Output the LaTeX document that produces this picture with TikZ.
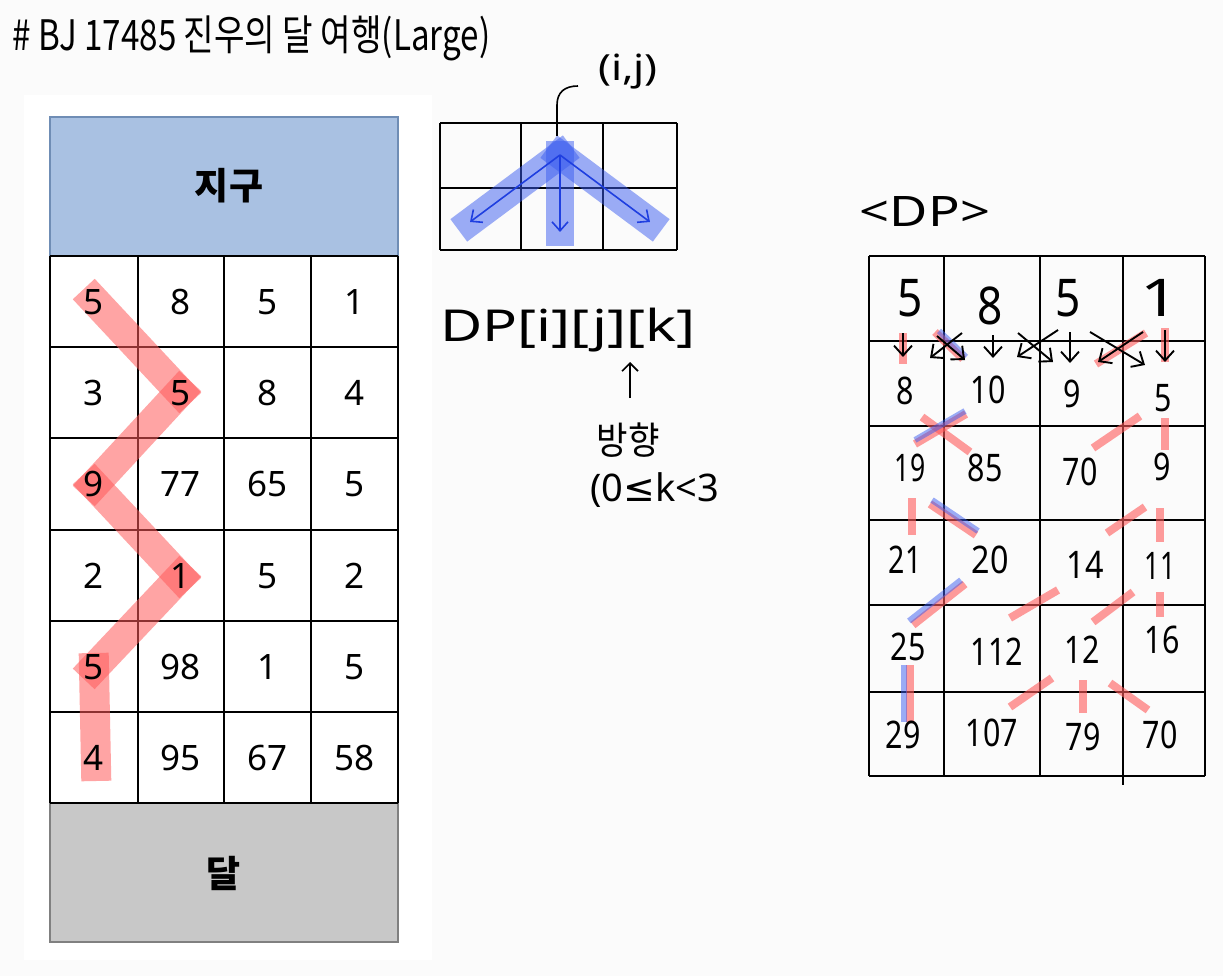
\documentclass[tikz,border=0pt]{standalone}
\usepackage{fontspec}
\setmainfont{Noto Sans}
\newfontfamily\kr{Noto Sans CJK KR}
\newfontfamily\dejavu{DejaVu Sans}
\usetikzlibrary{arrows.meta}
\definecolor{hdrblue}{HTML}{A9C1E2}
\definecolor{hdredge}{HTML}{6F8DB5}
\definecolor{ftrgray}{HTML}{C8C8C8}
\definecolor{hlred}{HTML}{FF5A5A}
\definecolor{hlblue}{HTML}{3A5CF0}
\definecolor{arrblue}{HTML}{1F3FE0}
\definecolor{bgcol}{HTML}{FBFBFB}
\newcommand{\hs}[2]{\scalebox{#1}[1]{#2}}
\tikzset{
  gridline/.style={draw=black, line width=1.3pt},
  tabnum/.style={font=\fontsize{35}{35}\selectfont, inner sep=0pt},
  hand/.style={font=\kr\fontsize{34}{34}\selectfont, inner sep=0pt},
  dpnum/.style={font=\fontsize{38}{38}\selectfont, inner sep=0pt},
  dpbig/.style={font=\fontsize{52}{52}\selectfont, inner sep=0pt},
  redband/.style={draw=hlred, draw opacity=0.55, line width=30pt, line cap=rect, line join=round},
  blueband/.style={draw=hlblue, draw opacity=0.5, line width=28pt, line cap=rect},
  thinblue/.style={draw=arrblue, line width=1.6pt, -{Straight Barb[length=9pt,width=16pt]}},
  thinarrow/.style={draw=black, line width=1.9pt, -{Straight Barb[length=10pt,width=18pt]}},
  dpred/.style={draw=hlred, draw opacity=0.6, line width=8pt},
  dpblue/.style={draw=hlblue, draw opacity=0.5, line width=6pt},
}
\begin{document}
\begin{tikzpicture}[x=1pt,y=-1pt]
\useasboundingbox (0,0) rectangle (1223,976);
\fill[bgcol] (0,0) rectangle (1223,976);
\fill[white] (24,95) rectangle (432,960);

% ---------- title ----------
\node[inner sep=0pt, anchor=west, font=\kr\fontsize{42}{42}\selectfont] (title) at (12,38) {\hs{0.79}{\# BJ 17485 진우의 달 여행(Large)}};

% ---------- left table ----------
\fill[hdrblue] (50,117) rectangle (398,256);
\draw[hdredge, line width=1.2pt] (50,117) rectangle (398,256);
\node[font=\kr\bfseries\fontsize{37}{37}\selectfont] (earth) at (229,186) {지구};
\fill[ftrgray] (50,803) rectangle (398,942);
\draw[gray, line width=1.2pt] (50,803) rectangle (398,942);
\node[font=\kr\bfseries\fontsize{37}{37}\selectfont] (moon) at (224,873) {달};
\foreach \y in {256,347,438,530,621,712,803} \draw[gridline] (50,\y) -- (398,\y);
\foreach \x in {50,138,224,311,398} \draw[gridline] (\x,256) -- (\x,803);

% red path
\draw[redband] (94,300) -- (180,392);
\draw[redband] (180,392) -- (94,485);
\draw[redband] (94,485) -- (180,577);
\draw[redband] (180,577) -- (94,668);
\draw[redband] (94,668) -- (96,766);

\foreach \r/\vals [count=\ri] in {302/{5,8,5,1}, 393/{3,5,8,4}, 484/{9,77,65,5}, 576/{2,1,5,2}, 667/{5,98,1,5}, 758/{4,95,67,58}}{
  \foreach \v [count=\ci] in \vals {
    \pgfmathsetmacro{\cx}{94+(\ci-1)*86.7}
    \node[tabnum] (t\ri-\ci) at (\cx,\r) {\v};
  }
}

% ---------- small direction grid ----------
\foreach \y in {123,188,250} \draw[gridline] (440,\y) -- (677,\y);
\foreach \x in {440,521,603,677} \draw[gridline] (\x,123) -- (\x,250);
\coordinate (ij) at (560,155);
\coordinate (dl) at (470,222);
\coordinate (dm) at (560,232);
\coordinate (dr) at (650,222);
\draw[blueband] (ij) -- (dl);
\draw[blueband] (ij) -- (dm);
\draw[blueband] (ij) -- (dr);
\draw[thinblue] (ij) -- (dl);
\draw[thinblue] (ij) -- (dm);
\draw[thinblue] (ij) -- (dr);
\node[inner sep=0pt, font=\fontsize{36}{36}\selectfont] (ijlabel) at (628,72) {\hs{1.2}{(i,j)}};
\coordinate (lead) at (557,136);
\draw[line width=1.6pt] (lead) -- (557,105) .. controls (557,92) and (565,86) .. (578,86);

% ---------- DP notation ----------
\node[inner sep=0pt, anchor=west, font=\fontsize{40}{40}\selectfont] (dpij) at (440,330) {\scalebox{1.45}[1.1]{DP[i][j][k]}};
\coordinate (ka) at (630,398);
\coordinate (kb) at (630,362);
\draw[line width=1.6pt, -{Straight Barb[length=8pt,width=16pt]}] (ka) -- (kb);
\node[inner sep=0pt, font=\kr\fontsize{38}{38}\selectfont] (dir) at (628,440) {\hs{0.9}{방향}};
\node[inner sep=0pt, anchor=west, font=\fontsize{38}{38}\selectfont] (range) at (590,490) {(0{\dejavu ≤}k<3};

% ---------- DP grid ----------
\node[inner sep=0pt, font=\fontsize{42}{42}\selectfont] (dplabel) at (925,212) {\hs{1.25}{<DP>}};
\foreach \y in {256,341,426,520,605,692,776} \draw[gridline] (869,\y) -- (1205,\y);
\foreach \x in {869,944,1040,1123,1205} \draw[gridline] (\x,256) -- (\x,776);
\draw[gridline] (1123,776) -- (1123,785);

% red / blue marks
\draw[dpred] (903,333) -- (903,364);
\draw[dpred] (935,332) -- (963,359);
\draw[dpblue] (939,331) -- (966,357);
\draw[dpred] (1096,364) -- (1146,333);
\draw[dpred] (1165,328) -- (1165,362);

\draw[dpred] (922,417) -- (970,452);
\draw[dpred] (966,414) -- (915,444);
\draw[dpblue] (965,411) -- (915,440);
\draw[dpred] (1093,448) -- (1140,416);
\draw[dpred] (1165,418) -- (1165,450);

\draw[dpred] (912,498) -- (912,535);
\draw[dpred] (930,504) -- (976,535);
\draw[dpblue] (932,500) -- (978,531);
\draw[dpred] (1107,533) -- (1145,507);
\draw[dpred] (1160,508) -- (1160,542);

\draw[dpred] (965,584) -- (913,625);
\draw[dpblue] (961,580) -- (909,621);
\draw[dpred] (1058,590) -- (1010,618);
\draw[dpred] (1133,592) -- (1093,622);
\draw[dpred] (1160,592) -- (1160,617);

\draw[dpred] (910,665) -- (910,722);
\draw[dpblue] (904,665) -- (904,722);
\draw[dpred] (1052,678) -- (1010,707);
\draw[dpred] (1083,680) -- (1083,713);
\draw[dpred] (1110,683) -- (1148,710);

% black arrows
\draw[thinarrow] (903,333) -- (903,357);
\draw[thinarrow] (962,333) -- (930,358);
\draw[thinarrow] (937,336) -- (965,360);
\draw[thinarrow] (993,335) -- (993,358);
\draw[thinarrow] (1058,330) -- (1017,357);
\draw[thinarrow] (1018,333) -- (1053,362);
\draw[thinarrow] (1070,332) -- (1070,363);
\draw[thinarrow] (1143,332) -- (1098,362);
\draw[thinarrow] (1090,332) -- (1145,365);
\draw[thinarrow] (1165,330) -- (1165,362);

% DP numbers
\node[dpbig] (d1-1) at (910,298) {\hs{0.85}{5}};
\node[dpbig] (d1-2) at (990,306) {\hs{0.85}{8}};
\node[dpbig] (d1-3) at (1068,298) {\hs{0.85}{5}};
\node[dpbig] (d1-4) at (1160,298) {\hs{1.3}{1}};
\node[dpnum] (d2-1) at (905,391) {\hs{0.8}{8}};
\node[dpnum] (d2-2) at (988,390) {\hs{0.8}{10}};
\node[dpnum] (d2-3) at (1072,394) {\hs{0.8}{9}};
\node[dpnum] (d2-4) at (1163,398) {\hs{0.8}{5}};
\node[dpnum] (d3-1) at (910,468) {\hs{0.7}{19}};
\node[dpnum] (d3-2) at (985,468) {\hs{0.8}{85}};
\node[dpnum] (d3-3) at (1080,472) {\hs{0.8}{70}};
\node[dpnum] (d3-4) at (1162,467) {\hs{0.8}{9}};
\node[dpnum] (d4-1) at (905,560) {\hs{0.75}{21}};
\node[dpnum] (d4-2) at (990,560) {\hs{0.85}{20}};
\node[dpnum] (d4-3) at (1085,565) {\hs{0.85}{14}};
\node[dpnum] (d4-4) at (1160,566) {\hs{0.7}{11}};
\node[dpnum] (d5-1) at (908,647) {\hs{0.8}{25}};
\node[dpnum] (d5-2) at (997,652) {\hs{0.8}{112}};
\node[dpnum] (d5-3) at (1082,650) {\hs{0.8}{12}};
\node[dpnum] (d5-4) at (1162,640) {\hs{0.8}{16}};
\node[dpnum] (d6-1) at (903,735) {\hs{0.8}{29}};
\node[dpnum] (d6-2) at (992,733) {\hs{0.8}{107}};
\node[dpnum] (d6-3) at (1083,737) {\hs{0.8}{79}};
\node[dpnum] (d6-4) at (1160,735) {\hs{0.8}{70}};
\end{tikzpicture}
\end{document}
